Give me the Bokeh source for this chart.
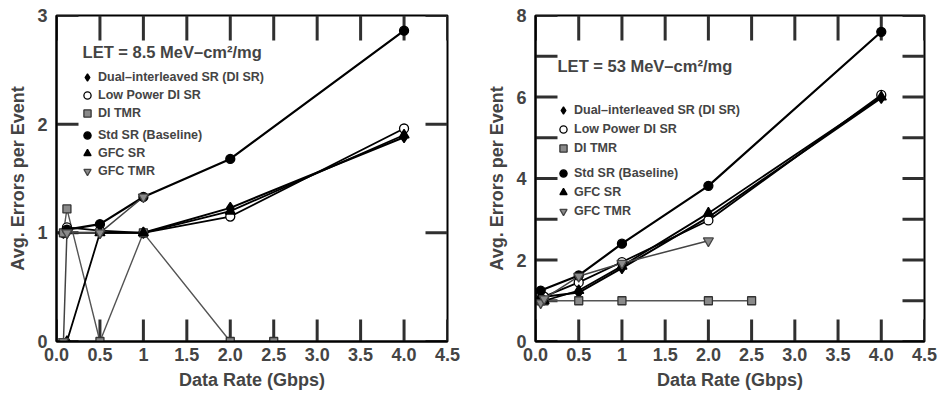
import numpy as np
from bokeh.plotting import figure
from bokeh.models import FixedTicker, Range1d, Legend, LegendItem, Label, ColumnDataSource
from bokeh.layouts import row
from bokeh.embed import file_html
from bokeh.resources import INLINE

FONT = "Liberation Sans"

# ---------------- data ----------------
x_ticks = [0.0, 0.5, 1.0, 1.5, 2.0, 2.5, 3.0, 3.5, 4.0, 4.5]
x_tick_labels = ["0.0", "0.5", "1", "1.5", "2.0", "2.5", "3.0", "3.5", "4.0", "4.5"]

series_names = ["Dual\u2013interleaved SR (DI SR)", "Low Power DI SR", "DI TMR",
                "Std SR (Baseline)", "GFC SR", "GFC TMR"]

# Left panel: LET = 8.5 MeV-cm2/mg
left_title = "LET = 8.5 MeV\u2013cm\u00b2/mg"
left_y_ticks = [0, 1, 2, 3]
left_y_labels = ["0", "1", "2", "3"]
l_disr_x = [0.08, 0.12, 0.5, 1.0, 2.0, 4.0]
l_disr_y = [1.0, 1.0, 1.0, 1.0, 1.23, 1.88]
l_lpdisr_x = [0.08, 0.12, 0.5, 1.0, 2.0, 4.0]
l_lpdisr_y = [1.0, 1.05, 1.02, 1.0, 1.15, 1.96]
l_ditmr_x = [0.08, 0.12, 0.5, 1.0, 2.0, 2.5]
l_ditmr_y = [1.0, 1.22, 0.0, 1.0, 0.0, 0.0]
l_std_x = [0.12, 0.5, 1.0, 2.0, 4.0]
l_std_y = [1.03, 1.08, 1.33, 1.68, 2.86]
l_gfcsr_x = [0.12, 0.5, 1.0, 2.0, 4.0]
l_gfcsr_y = [0.0, 1.0, 1.0, 1.2, 1.9]
l_gfctmr_x = [0.08, 0.12, 0.5, 1.0]
l_gfctmr_y = [0.0, 1.0, 1.0, 1.33]

# Right panel: LET = 53 MeV-cm2/mg
right_title = "LET = 53 MeV\u2013cm\u00b2/mg"
right_y_ticks = [0, 1, 2, 3, 4, 5, 6, 7, 8]
right_y_labels = ["0", "", "2", "", "4", "", "6", "", "8"]
r_disr_x = [0.06, 0.1, 0.5, 1.0, 2.0, 4.0]
r_disr_y = [1.0, 1.1, 1.2, 1.8, 3.05, 5.98]
r_lpdisr_x = [0.06, 0.1, 0.5, 1.0, 2.0, 4.0]
r_lpdisr_y = [1.15, 1.1, 1.45, 1.95, 2.97, 6.05]
r_ditmr_x = [0.06, 0.1, 0.5, 1.0, 2.0, 2.5]
r_ditmr_y = [1.0, 1.0, 1.0, 1.0, 1.0, 1.0]
r_std_x = [0.06, 0.5, 1.0, 2.0, 4.0]
r_std_y = [1.25, 1.62, 2.4, 3.82, 7.6]
r_gfcsr_x = [0.06, 0.1, 0.5, 1.0, 2.0, 4.0]
r_gfcsr_y = [1.1, 1.0, 1.25, 1.85, 3.15, 6.0]
r_gfctmr_x = [0.06, 0.1, 0.5, 1.0, 2.0]
r_gfctmr_y = [0.95, 1.05, 1.6, 1.92, 2.47]

# ---------------- styles ----------------
styles = [
    dict(marker="diamond", size=11, fill="black", line="black", lc="black", lw=2.0),
    dict(marker="circle", size=9, fill="white", line="black", lc="black", lw=1.8),
    dict(marker="square", size=8, fill="#8a8a8a", line="#333333", lc="#555555", lw=1.4),
    dict(marker="circle", size=9, fill="black", line="black", lc="black", lw=2.2),
    dict(marker="triangle", size=10, fill="black", line="black", lc="black", lw=1.8),
    dict(marker="inverted_triangle", size=10, fill="#8a8a8a", line="#444444", lc="#444444", lw=1.5),
]

FRAME_H = 326
X_MAX = 4.5
TICK_COLOR = "#303030"


def make_panel(data, y_max, y_ticks, y_labels, title, title_xy, leg1, leg2,
               border_left, border_right, frame_w, row_sp):
    p = figure(frame_width=frame_w, frame_height=FRAME_H, output_backend="svg",
               toolbar_location=None, x_range=Range1d(0, X_MAX), y_range=Range1d(0, y_max),
               min_border_left=border_left, min_border_right=border_right,
               min_border_top=15, min_border_bottom=10)
    p.grid.visible = False
    p.outline_line_color = "black"
    p.outline_line_width = 2
    p.background_fill_color = "white"

    xov = {float(t): l for t, l in zip(x_ticks, x_tick_labels)}
    yov = {float(t): l for t, l in zip(y_ticks, y_labels)}

    ax = p.xaxis[0]
    ax.ticker = FixedTicker(ticks=x_ticks)
    ax.major_label_overrides = xov
    ay = p.yaxis[0]
    ay.ticker = FixedTicker(ticks=y_ticks)
    ay.major_label_overrides = yov
    for a in (ax, ay):
        a.major_tick_in = 0
        a.major_tick_out = 0
        a.minor_tick_line_color = None
        a.axis_line_width = 2
        a.major_label_text_font = FONT
        a.major_label_text_font_style = "bold"
        a.major_label_text_font_size = "18px"
        a.axis_label_text_font = FONT
        a.axis_label_text_font_style = "bold"
        a.axis_label_text_font_size = "18px"
    ax.axis_label = "Data Rate (Gbps)"
    ax.major_label_standoff = 6
    ax.axis_label_standoff = 6
    ay.axis_label = "Avg. Errors per Event"
    ay.major_label_standoff = 9
    ay.axis_label_standoff = 6

    # inward tick marks (lengths in px converted to data units)
    xt = np.array(x_ticks, dtype=float)
    yt = np.array(y_ticks, dtype=float)
    ty_bot = 22.0 / FRAME_H * y_max
    ty_top = 25.0 / FRAME_H * y_max
    tx = 22.0 / frame_w * X_MAX
    top_right = ColumnDataSource(data=dict(
        x0=np.concatenate([xt, np.full_like(yt, X_MAX)]),
        x1=np.concatenate([xt, np.full_like(yt, X_MAX - tx)]),
        y0=np.concatenate([np.full_like(xt, float(y_max)), yt]),
        y1=np.concatenate([np.full_like(xt, y_max - ty_top), yt]),
    ))
    bottom_left = ColumnDataSource(data=dict(
        x0=np.concatenate([xt, np.zeros_like(yt)]),
        x1=np.concatenate([xt, np.full_like(yt, tx)]),
        y0=np.concatenate([np.zeros_like(xt), yt]),
        y1=np.concatenate([np.full_like(xt, ty_bot), yt]),
    ))
    for src in (top_right, bottom_left):
        p.segment(x0="x0", y0="y0", x1="x1", y1="y1", source=src,
                  line_color=TICK_COLOR, line_width=3)

    scatters = []
    for (xs, ys), st in zip(data, styles):
        p.line(xs, ys, line_color=st["lc"], line_width=st["lw"])
    for (xs, ys), st in zip(data, styles):
        r = p.scatter(xs, ys, marker=st["marker"], size=st["size"], fill_color=st["fill"],
                      line_color=st["line"], line_width=1.3)
        scatters.append(r)

    for (items, loc) in ((range(0, 3), leg1), (range(3, 6), leg2)):
        lg = Legend(items=[LegendItem(label=series_names[i], renderers=[scatters[i]]) for i in items],
                    location=loc, padding=0, margin=0, spacing=row_sp, glyph_width=20,
                    glyph_height=18, label_standoff=1, label_height=18,
                    label_text_font=FONT, label_text_font_style="bold",
                    label_text_font_size="12.5px", background_fill_alpha=0,
                    border_line_alpha=0)
        p.add_layout(lg)

    p.add_layout(Label(x=title_xy[0], y=title_xy[1], text=title, text_font=FONT,
                       text_font_style="bold", text_font_size="16.5px", text_baseline="middle"))
    return p


left_data = [(l_disr_x, l_disr_y), (l_lpdisr_x, l_lpdisr_y), (l_ditmr_x, l_ditmr_y),
             (l_std_x, l_std_y), (l_gfcsr_x, l_gfcsr_y), (l_gfctmr_x, l_gfctmr_y)]
right_data = [(r_disr_x, r_disr_y), (r_lpdisr_x, r_lpdisr_y), (r_ditmr_x, r_ditmr_y),
              (r_std_x, r_std_y), (r_gfcsr_x, r_gfcsr_y), (r_gfctmr_x, r_gfctmr_y)]

p1 = make_panel(left_data, 3, left_y_ticks, left_y_labels, left_title, (0.30, 2.66),
                (21, 219), (21, 161), 56, 20, 391, 0)
p2 = make_panel(right_data, 8, right_y_ticks, right_y_labels, right_title, (0.255, 6.77),
                (18, 184), (18, 121), 68, 15, 389, 1)

layout = row(p1, p2)
open("out.html", "w").write(file_html(layout, INLINE))
